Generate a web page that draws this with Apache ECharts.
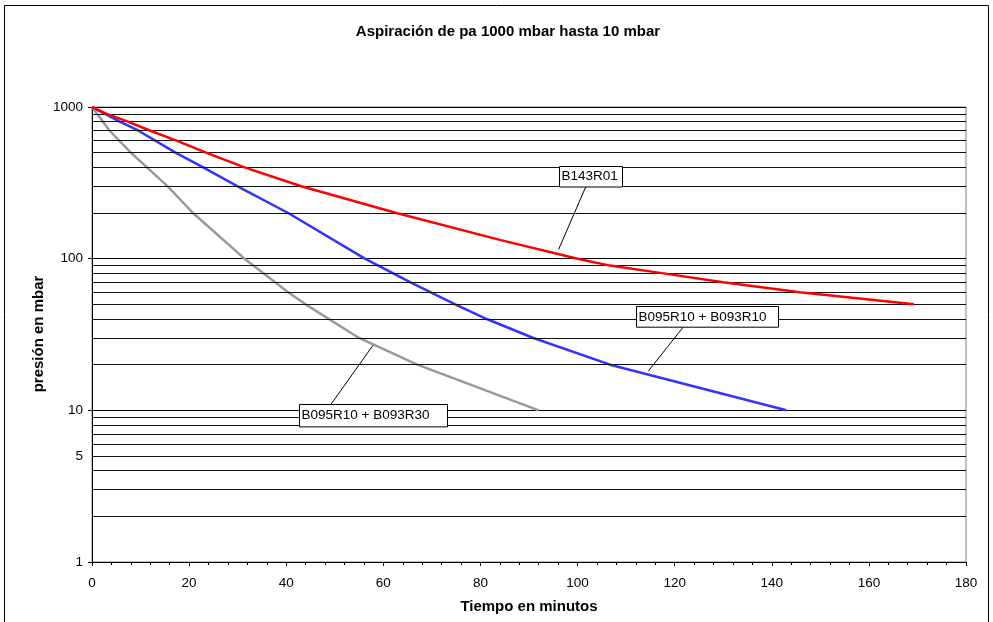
<!DOCTYPE html>
<html><head><meta charset="utf-8">
<script src="https://cdn.jsdelivr.net/npm/echarts@6/dist/echarts.min.js"></script>
<style>html,body{margin:0;padding:0;background:#fff}#c{width:993px;height:622px}</style>
</head><body><div id="c"></div>
<script>
// ---- data ----
const titleText = 'Aspiración de pa 1000 mbar hasta 10 mbar';
const xAxisName = 'Tiempo en minutos';
const yAxisName = 'presión en mbar';

const redName = 'B143R01';
const redTime = [0, 3, 7.4, 11.9, 17.4, 23.5, 31.4, 43.1, 62.7, 84, 100, 106.7, 117.7, 130, 145.8, 169.3];
const redPres = [1000, 900, 800, 700, 600, 500, 400, 300, 200, 133, 100, 90, 80, 70, 60, 50];

const blueName = 'B095R10 + B093R10';
const blueTime = [0, 5.7, 9.5, 17.2, 22.9, 30, 40.4, 56.2, 65.5, 74.8, 81.3, 90.9, 106.7, 143];
const bluePres = [1000, 800, 700, 500, 400, 300, 200, 100, 70, 50, 40, 30, 20, 10];

const grayName = 'B095R10 + B093R30';
const grayTime = [0, 3.6, 8, 15.6, 20.8, 31.4, 40.4, 44, 55, 67, 92];
const grayPres = [1000, 700, 500, 300, 200, 100, 60, 50, 30, 20, 10];

const minorGridValues = [2,3,4,5,6,7,8,9,20,30,40,50,60,70,80,90,200,300,400,500,600,700,800,900];
const extraYLabelValues = [5];

// annotation boxes: top-left corner, leader start, leader tip (data coords)
const annotText = [redName, blueName, grayName];
const annotBoxX = [96.2, 112.0, 42.7];
const annotBoxY = [410, 48.7, 10.94];
const annotLineX0 = [101.7, 121.8, 49.2];
const annotLineY0 = [298, 35.5, 10.94];
const annotTipX = [96.1, 114.6, 57.9];
const annotTipY = [115, 18.2, 26.9];

// ---- chart ----
const FONT = '"Liberation Sans", Arial, sans-serif';
const pairs = (xs, ys) => xs.map((x, i) => [x, ys[i]]);
const chart = echarts.init(document.getElementById('c'), null, {renderer: 'canvas'});

const option = {
  animation: false,
  backgroundColor: '#fff',
  grid: {left: 92, right: 27, top: 107, bottom: 60, show: true, borderColor: '#808080', borderWidth: 1,
         containLabel: false, outerBoundsMode: 'none'},
  xAxis: {
    type: 'value', min: 0, max: 180, interval: 20,
    name: xAxisName, nameLocation: 'middle', nameGap: 37, nameMoveOverlap: false,
    nameTextStyle: {fontFamily: FONT, fontWeight: 'bold', fontSize: 15, color: '#000'},
    axisLine: {show: true, lineStyle: {color: '#000', width: 1}},
    axisTick: {show: true, length: 4, lineStyle: {color: '#000'}},
    minorTick: {show: true, splitNumber: 5, length: 3, lineStyle: {color: '#000'}},
    axisLabel: {fontFamily: FONT, fontSize: 13.5, color: '#000', margin: 14},
    splitLine: {show: false}
  },
  yAxis: {
    type: 'log', logBase: 10, min: 1, max: 1000,
    axisLine: {show: true, lineStyle: {color: '#000', width: 1}},
    axisTick: {show: true, length: 4, lineStyle: {color: '#000'}},
    axisLabel: {fontFamily: FONT, fontSize: 13.5, color: '#000', margin: 9, formatter: v => String(Math.round(v))},
    splitLine: {show: true, lineStyle: {color: '#000', width: 1}}
  },
  series: [
    {
      name: grayName, type: 'line', data: pairs(grayTime, grayPres), showSymbol: false,
      lineStyle: {color: '#999999', width: 2.5}, z: 3,
      markLine: {
        silent: true, symbol: ['none', 'none'], animation: false,
        lineStyle: {color: '#111', width: 1, type: 'solid'},
        label: {show: false},
        data: minorGridValues.map(v => ({yAxis: v}))
      }
    },
    {
      name: blueName, type: 'line', data: pairs(blueTime, bluePres), showSymbol: false,
      lineStyle: {color: '#3333FF', width: 2.5}, z: 4,
      markLine: {
        silent: true, symbol: ['none', 'none'], animation: false,
        lineStyle: {color: '#111', width: 1, type: 'solid'},
        label: {show: true, position: 'start', distance: 9, formatter: p => String(p.value),
                fontFamily: FONT, fontSize: 13.5, color: '#000'},
        data: extraYLabelValues.map(v => ({yAxis: v}))
      }
    },
    {
      name: redName, type: 'line', data: pairs(redTime, redPres), showSymbol: false,
      lineStyle: {color: '#FF0000', width: 2.5}, z: 5
    }
  ]
};
chart.setOption(option);

function buildGraphics() {
  const g = [];
  g.push({type: 'rect', shape: {x: 4.5, y: 5.5, width: 984, height: 640},
          style: {fill: 'none', stroke: '#000', lineWidth: 1}, silent: true});
  g.push({type: 'text', x: 508, y: 32, silent: true,
          style: {text: titleText, font: 'bold 15px ' + FONT, fill: '#000', align: 'center', verticalAlign: 'middle'}});
  g.push({type: 'text', x: 39, y: 334, rotation: Math.PI / 2, silent: true,
          style: {text: yAxisName, font: 'bold 15px ' + FONT, fill: '#000', align: 'center', verticalAlign: 'middle'}});
  const widths = [63, 142, 148];
  const heights = [20.5, 20.7, 22.4];
  for (let i = 0; i < annotText.length; i++) {
    const tl = chart.convertToPixel({gridIndex: 0}, [annotBoxX[i], annotBoxY[i]]);
    const l0 = chart.convertToPixel({gridIndex: 0}, [annotLineX0[i], annotLineY0[i]]);
    const tp = chart.convertToPixel({gridIndex: 0}, [annotTipX[i], annotTipY[i]]);
    g.push({type: 'line', z: 20, silent: true, shape: {x1: l0[0], y1: l0[1], x2: tp[0], y2: tp[1]},
            style: {stroke: '#000', lineWidth: 1}});
    g.push({type: 'rect', z: 21, silent: true,
            shape: {x: Math.round(tl[0]) + 0.5, y: Math.round(tl[1]) + 0.5, width: widths[i], height: heights[i]},
            style: {fill: '#fff', stroke: '#000', lineWidth: 1}});
    g.push({type: 'text', z: 22, silent: true, x: Math.round(tl[0]) + 2.5, y: Math.round(tl[1]) + 0.5 + heights[i] / 2,
            style: {text: annotText[i], font: '13.5px ' + FONT, fill: '#000', align: 'left', verticalAlign: 'middle'}});
  }
  return g;
}
chart.setOption({graphic: buildGraphics()});
</script>
</body></html>
